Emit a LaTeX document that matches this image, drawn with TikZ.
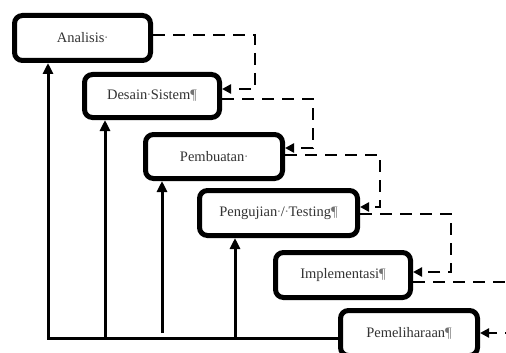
\documentclass[tikz,border=0pt]{standalone}
\usepackage{fontspec}
\setmainfont{Liberation Serif}
\usetikzlibrary{arrows.meta}
% formatting marks shown in the labels
\newcommand\wddot{\makebox[0.25em]{\textcolor{black!45}{·}}}
\newcommand\wdpil{\textcolor{black!55}{¶}}
\begin{document}
\begin{tikzpicture}[x=1pt,y=-1pt,
  stage/.style={draw, line width=5pt, rounded corners=8pt, inner sep=0pt,
    font=\fontsize{14.5}{16}\selectfont, text=black!80},
  flow/.style={line width=3pt, -{Triangle[width=10pt,length=11pt]}},
  back/.style={line width=2.6pt, dash pattern=on 12pt off 8pt,
    -{Triangle[width=9pt,length=9pt]}},
  backplain/.style={line width=2.6pt, dash pattern=on 12pt off 8pt}]
\useasboundingbox (0,0) rectangle (506,353);
\clip (0,0) rectangle (506,353);
\fill[white] (0,0) rectangle (506,353);

% stages of the waterfall
\node[stage, minimum width=136pt, minimum height=45pt] (A) at (82.5,38) {Analisis\wddot};
\node[stage, minimum width=135pt, minimum height=43pt] (D) at (152,96) {Desain\wddot Sistem\wdpil};
\node[stage, minimum width=137pt, minimum height=44pt] (P) at (214,156.5) {Pembuatan\wddot};
\node[stage, minimum width=158pt, minimum height=45pt] (T) at (278.5,213) {Pengujian\wddot/\wddot Testing\wdpil};
\node[stage, minimum width=135pt, minimum height=45pt] (I) at (343,275) {Implementasi\wdpil};
\node[stage, minimum width=137pt, minimum height=45pt] (M) at (409,333) {Pemeliharaan\wdpil};

% feedback from maintenance to every earlier stage
\coordinate (b1) at (48,338);
\coordinate (b2) at (105,338);
\coordinate (b3) at (162,333);
\coordinate (b4) at (235,338);
\draw[flow] (M.west |- b1) -- (b1) -- (b1 |- A.south);
\draw[flow] (b2) -- (b2 |- D.south);
\draw[flow] (b3) -- (b3 |- P.south);
\draw[flow] (b4) -- (b4 |- T.south);

% dashed hand-over between consecutive stages
\draw[back] (A.east |- 0,35) -| (255,89) -- (D.east |- 0,89);
\draw[back] (D.east |- 0,99) -| (313,148) -- (P.east |- 0,148);
\draw[back] (P.east |- 0,155) -| (380,207) -- (T.east |- 0,207);
\draw[back] (T.east |- 0,214) -| (451,272) -- (I.east |- 0,272);
\coordinate (outI) at (520,282);
\coordinate (inM) at (517,333);
\draw[backplain] (I.east |- 0,282) -- (outI);
\draw[back] (inM) -- (M.east |- 0,333);
\end{tikzpicture}
\end{document}
